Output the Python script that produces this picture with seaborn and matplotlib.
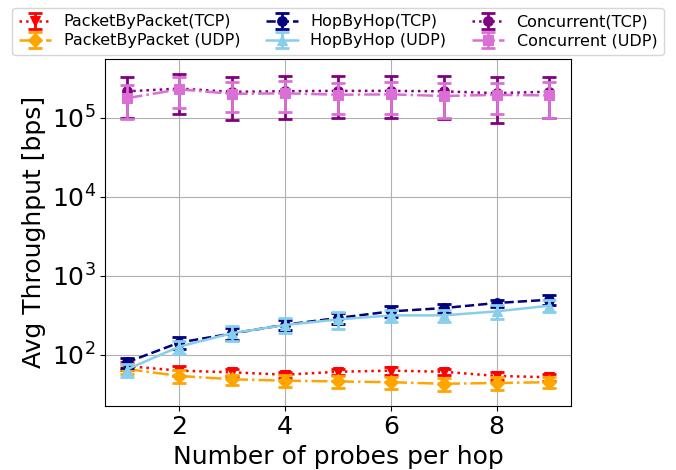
import matplotlib
matplotlib.use("Agg")
import matplotlib.pyplot as plt
import seaborn as sns
import numpy as np

# 스타일 (기본 matplotlib 느낌 유지)
sns.set_style("ticks", {
    "axes.edgecolor": "black",
    "axes.grid": True,
    "grid.color": "#b0b0b0",
    "xtick.color": "black",
    "ytick.color": "black",
    "text.color": "black",
    "axes.labelcolor": "black",
})
plt.rcParams["font.family"] = ["DejaVu Sans"]

# 데이터
probes = [1, 2, 3, 4, 5, 6, 7, 8, 9]

pbp_tcp_mean = [72, 63, 60, 56, 61, 63, 61, 54, 52]
pbp_tcp_std = [8, 9, 6, 5, 5, 7, 6, 6, 5]
pbp_udp_mean = [66, 54, 49, 47, 46, 45, 43, 44, 45]
pbp_udp_std = [9, 10, 7, 8, 8, 8, 8, 8, 7]

hbh_tcp_mean = [80, 143, 186, 240, 292, 354, 390, 452, 497]
hbh_tcp_std = [12, 25, 31, 37, 45, 55, 53, 46, 68]
hbh_udp_mean = [65, 127, 188, 238, 280, 315, 315, 354, 418]
hbh_udp_std = [12, 24, 40, 50, 68, 52, 55, 68, 70]

conc_tcp_mean = [215e3, 233e3, 212e3, 216e3, 218e3, 218e3, 215e3, 204e3, 213e3]
conc_tcp_std = [116e3, 121e3, 119e3, 120e3, 118e3, 118e3, 120e3, 118e3, 113e3]
conc_udp_mean = [176e3, 228e3, 200e3, 203e3, 195e3, 197e3, 188e3, 194e3, 191e3]
conc_udp_std = [81e3, 94e3, 82e3, 85e3, 83e3, 85e3, 90e3, 84e3, 91e3]

series = [
    ("PacketByPacket(TCP)", pbp_tcp_mean, pbp_tcp_std, "red", ":", "v"),
    ("PacketByPacket (UDP)", pbp_udp_mean, pbp_udp_std, "orange", "-.", "D"),
    ("HopByHop(TCP)", hbh_tcp_mean, hbh_tcp_std, "navy", "--", "o"),
    ("HopByHop (UDP)", hbh_udp_mean, hbh_udp_std, "skyblue", "-", "^"),
    ("Concurrent(TCP)", conc_tcp_mean, conc_tcp_std, "purple", ":", "o"),
    ("Concurrent (UDP)", conc_udp_mean, conc_udp_std, "orchid", "-.", "s"),
]

fig = plt.figure(figsize=(6.76, 4.70), dpi=100)
ax = fig.add_axes([0.156, 0.137, 0.688, 0.737])

handles, labels = [], []
for label, mean, std, color, ls, mk in series:
    sns.lineplot(x=probes, y=mean, color=color, linestyle=ls, marker=mk,
                 markersize=7, markeredgecolor=color, linewidth=1.8,
                 ax=ax, legend=False)
    line = ax.lines[-1]
    err = ax.errorbar(probes, mean, yerr=std, fmt="none", ecolor=color,
                      elinewidth=2, capsize=5, capthick=2)
    handles.append((line, err))
    labels.append(label)

ax.set_yscale("log")
ax.set_ylim(10 ** 1.357, 10 ** 5.739)
ax.set_xlim(0.6, 9.4)
ax.set_xticks([2, 4, 6, 8])
ax.minorticks_off()
ax.grid(True, which="major", color="#b0b0b0", linewidth=0.8)
ax.tick_params(labelsize=18, length=3.5, width=0.8)
for s in ax.spines.values():
    s.set_linewidth(0.8)

ax.set_xlabel("Number of probes per hop", fontsize=18)
ax.set_ylabel("Avg Throughput [bps]", fontsize=18)

fig.legend(handles, labels, ncol=3, fontsize=11.5, loc="upper center",
           bbox_to_anchor=(338 / 676, 1 - 8 / 470), frameon=True,
           labelspacing=0.25, columnspacing=1.6, borderaxespad=0)

fig.savefig("out.png", dpi=100)
